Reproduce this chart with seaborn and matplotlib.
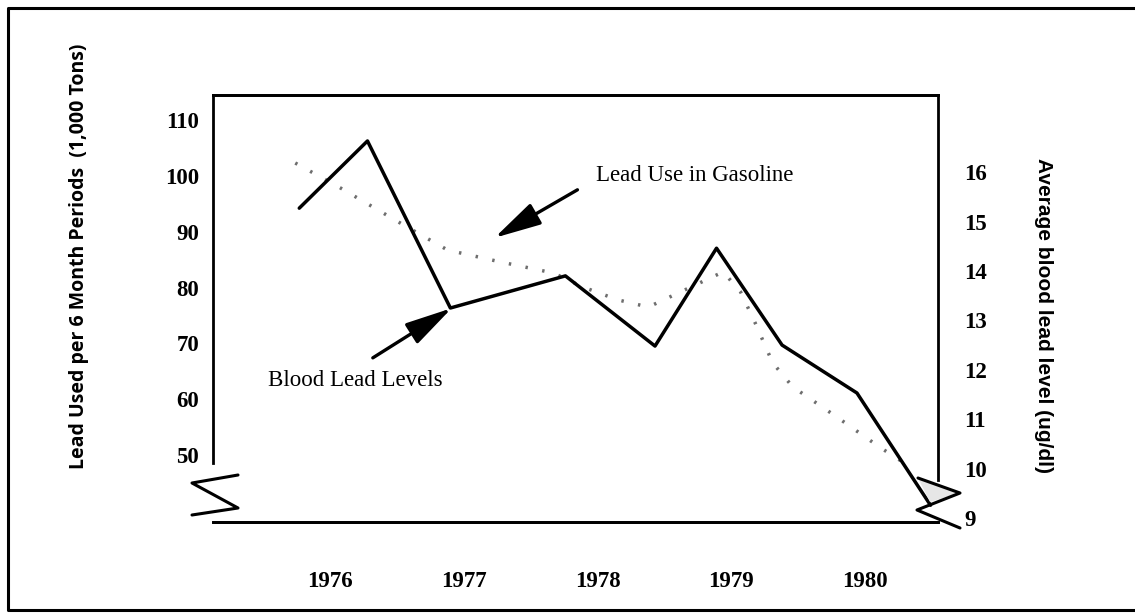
"""Lead use in gasoline vs. average blood lead levels, 1976-1980."""

import matplotlib

matplotlib.use("Agg")
import matplotlib.pyplot as plt
import pandas as pd
import seaborn as sns
from matplotlib.lines import Line2D
from matplotlib.patches import Polygon

# blood lead level (ug/dl), right axis
blood_year = [1975.77, 1976.28, 1976.90, 1977.76, 1978.43, 1978.89, 1979.38, 1979.94, 1980.49]
blood_level = [15.27, 16.63, 13.25, 13.90, 12.48, 14.46, 12.50, 11.53, 9.26]

# lead used in gasoline (1,000 tons per 6 months), left axis
gas_year = [1975.74, 1976.08, 1976.55, 1976.88, 1977.27, 1977.67, 1977.89, 1978.15, 1978.38,
            1978.62, 1978.94, 1979.07, 1979.18, 1979.31, 1979.46, 1979.79, 1980.11, 1980.35]
gas_lead = [102.3, 97.8, 91.2, 86.7, 84.6, 82.6, 80.1, 77.8, 76.5,
            79.2, 82.8, 79.2, 73.6, 66.5, 62.2, 56.8, 51.4, 47.7]

year_ticks = [1976, 1977, 1978, 1979, 1980]
left_ticks = [50, 60, 70, 80, 90, 100, 110]
right_ticks = [9, 10, 11, 12, 13, 14, 15, 16]

blood_df = pd.DataFrame({"year": blood_year, "level": blood_level})
gas_df = pd.DataFrame({"year": gas_year, "lead": gas_lead})

sns.set_theme(style="white")
plt.rcParams["font.family"] = ["Liberation Serif", "DejaVu Serif"]
plt.rcParams["text.color"] = "black"

W, H = 1135, 613
fig = plt.figure(figsize=(W / 100, H / 100), dpi=100)


def fx(px):
    return px / W


def fy(py):
    return 1 - py / H


ax = fig.add_axes([fx(213), fy(522), fx(938) - fx(213), fy(95) - fy(522)])
ax2 = ax.twinx()

sns.lineplot(data=gas_df, x="year", y="lead", ax=ax, color="#6e6e6e",
             linestyle=(0, (0.7, 4.2)), linewidth=2.5, sort=False, estimator=None)
sns.lineplot(data=blood_df, x="year", y="level", ax=ax2, color="black",
             linewidth=2.5, sort=False, estimator=None)

ax.set_xlim(1975.125, 1980.546)
ax.set_ylim(38.0, 114.48)
ax2.set_ylim(8.92, 17.56)

ax.set_xticks(year_ticks)
ax.set_yticks(left_ticks)
ax2.set_yticks(right_ticks)
ax.tick_params(axis="x", length=0, pad=35, labelsize=16.5, labelcolor="black")
ax.tick_params(axis="y", length=0, pad=10, labelsize=16.5, labelcolor="black")
ax2.tick_params(axis="y", length=0, pad=19, labelsize=16.5, labelcolor="black")
for lab in ax.get_xticklabels() + ax.get_yticklabels() + ax2.get_yticklabels():
    lab.set_fontweight("bold")

ax.set_xlabel("")
ax.set_ylabel("")
ax2.set_ylabel("")

for a in (ax, ax2):
    for s in a.spines.values():
        s.set_color("black")
        s.set_linewidth(2.0)
ax2.spines["left"].set_visible(False)
ax.spines["right"].set_visible(False)
ax.spines["left"].set_bounds(48.6, 114.48)
ax2.spines["right"].set_bounds(9.77, 17.56)

# axis titles
fig.text(fx(79), fy(256), "Lead Used per 6 Month Periods  (1,000 Tons)", rotation=90,
         ha="center", va="center", fontsize=14, fontweight="bold",
         family=["Open Sans", "DejaVu Sans"])
fig.text(fx(1043), fy(315), "Average blood lead level (ug/dl)", rotation=-90,
         ha="center", va="center", fontsize=15, fontweight="bold",
         family=["Liberation Sans", "DejaVu Sans"])

# annotations
arrow = dict(arrowstyle="-|>,head_length=2.4,head_width=0.6", color="black", lw=2.4,
             shrinkA=0, shrinkB=0)
ax.text(1978.73, 100.15, "Lead Use in Gasoline", ha="center", va="center", fontsize=16.5)
ax.annotate("", xy=(1977.23, 88.9), xytext=(1977.85, 97.5), arrowprops=arrow)
ax.text(1976.19, 63.4, "Blood Lead Levels", ha="center", va="center", fontsize=16.5)
ax.annotate("", xy=(1976.91, 76.3), xytext=(1976.32, 67.4), arrowprops=arrow)


# axis break marks
def zig(points, **kw):
    xs = [fx(p[0]) for p in points]
    ys = [fy(p[1]) for p in points]
    fig.add_artist(Line2D(xs, ys, color="black", lw=2.2, **kw))


zig([(238, 475), (192, 483), (238, 508), (192, 515)])
fig.add_artist(Polygon([(fx(918), fy(478)), (fx(960), fy(493)), (fx(930), fy(502))],
                       closed=True, facecolor="#e6e6e6", edgecolor="none"))
zig([(918, 478), (960, 493), (917, 510), (960, 528)])

# outer frame
zig([(1140, 8), (8, 8), (8, 610), (1140, 610)])

fig.savefig("out.png", dpi=100, facecolor="white")
